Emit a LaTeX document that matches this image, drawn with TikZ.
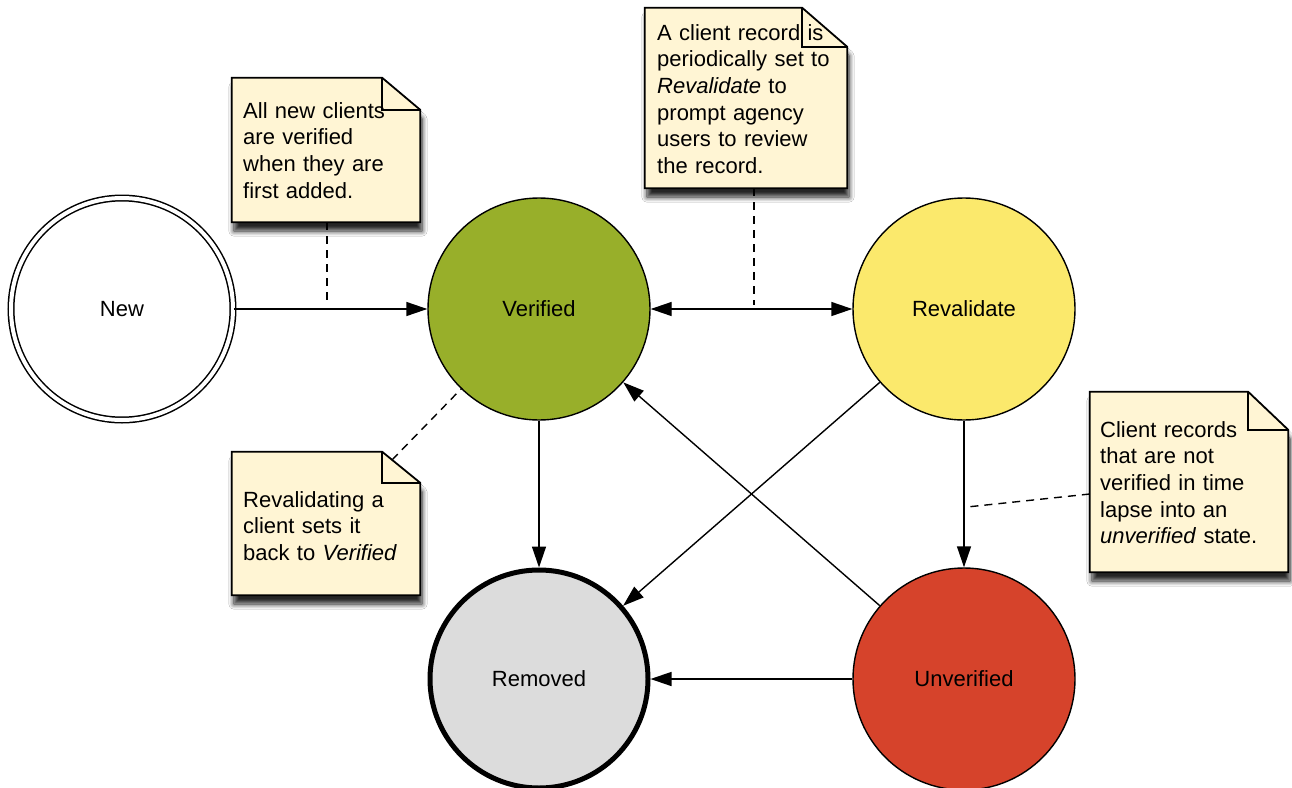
\documentclass[tikz,border=0pt]{standalone}
\usepackage{fontspec}
\setmainfont{Liberation Sans}
\usetikzlibrary{arrows.meta,shadows.blur}
\definecolor{vgreen}{HTML}{98AF2A}
\definecolor{ryellow}{HTML}{FBE96C}
\definecolor{ured}{HTML}{D6432B}
\definecolor{rgray}{HTML}{DCDCDC}
\definecolor{notefill}{HTML}{FFF5D4}
\tikzset{
  state/.style={circle, draw=black, line width=1.4pt, minimum size=222pt, inner sep=0pt, font=\fontsize{22}{26}\selectfont},
  arr/.style={line width=1.4pt, -{Triangle[length=21pt,width=14pt]}},
  biarr/.style={line width=1.4pt, {Triangle[length=21pt,width=14pt]}-{Triangle[length=21pt,width=14pt]}},
  dashline/.style={line width=1.4pt, dash pattern=on 8pt off 6pt},
  noteshape/.style={fill=notefill, draw=black, line width=1.8pt, line join=miter,
    blur shadow={shadow xshift=2pt, shadow yshift=-9pt, shadow blur radius=5pt, shadow blur steps=10, shadow opacity=85}},
  foldline/.style={draw=black, line width=1.8pt},
  notearea/.style={rectangle, draw=none, inner sep=0pt},
  notetext/.style={anchor=base west, inner sep=0pt, text width=200pt, align=left, font=\fontsize{22}{26.7}\selectfont},
}
\newcommand\stickynote[3]{%
  \path[noteshape] (#1.north west) -- ([xshift=-#2pt]#1.north east) -- ([yshift=-#3pt]#1.north east)
    -- (#1.south east) -- (#1.south west) -- cycle;}
\newcommand\stickyfold[3]{%
  \path[foldline] ([xshift=-#2pt]#1.north east) -- ([xshift=-#2pt,yshift=-#3pt]#1.north east) -- ([yshift=-#3pt]#1.north east);}
\begin{document}
\begin{tikzpicture}[x=1pt,y=-1pt]
\useasboundingbox[fill=white] (0,0) rectangle (1292,787);

% states
\node[state, draw=black, line width=1.5pt, double=white, double distance=4pt, fill=white] (new) at (122,309) {New};
\node[state, fill=vgreen] (ver) at (539,309) {Verified};
\node[state, fill=ryellow] (rev) at (964,309) {Revalidate};
\node[state, fill=rgray, line width=5pt, minimum size=218pt] (rem) at (539,679) {Removed};
\node[state, fill=ured] (unv) at (964,679) {Unverified};

% transitions
\draw[arr] (new) -- (ver);
\draw[biarr] (ver) -- (rev);
\draw[arr] (ver) -- (rem);
\draw[arr] (rev) -- (unv);
\draw[arr] (unv) -- (rem);
\draw[arr] (rev) -- (rem);
\draw[arr] (unv) -- (ver);

% note areas
\node[notearea, minimum width=188pt, minimum height=144pt] (n1) at (326,150) {};
\node[notearea, minimum width=202pt, minimum height=180pt] (n2) at (746,98) {};
\node[notearea, minimum width=188pt, minimum height=143pt] (n3) at (326,523.5) {};
\node[notearea, minimum width=198pt, minimum height=180pt] (n4) at (1189,482) {};

\stickynote{n1}{38}{32}
\stickynote{n2}{45}{39}
\stickynote{n3}{38}{31}
\stickynote{n4}{40}{38}

\node[notetext] (n1t) at (243,118) {All new clients\\are verified\\when they are\\first added.};
\node[notetext] (n2t) at (657,40) {A client record is\\periodically set to\\\textit{Revalidate} to\\prompt agency\\users to review\\the record.};
\node[notetext] (n3t) at (243,507) {Revalidating a\\client sets it\\back to \textit{Verified}};
\node[notetext] (n4t) at (1100,437) {Client records\\that are not\\verified in time\\lapse into an\\\textit{unverified} state.};

\stickyfold{n1}{38}{32}
\stickyfold{n2}{45}{39}
\stickyfold{n3}{38}{31}
\stickyfold{n4}{40}{38}

% anchors on connectors
\coordinate (c1) at (327,305);
\coordinate (c2) at (754,305);
\coordinate (c3) at (462,388);
\coordinate (c4) at (967,507);

\draw[dashline] (c1 |- n1.south) -- (c1);
\draw[dashline] (c2 |- n2.south) -- (c2);
\draw[dashline] ([xshift=-28pt,yshift=-8pt]n3.north east) -- (c3);
\draw[dashline] ([yshift=-12pt]n4.west) -- (c4);
\end{tikzpicture}
\end{document}
